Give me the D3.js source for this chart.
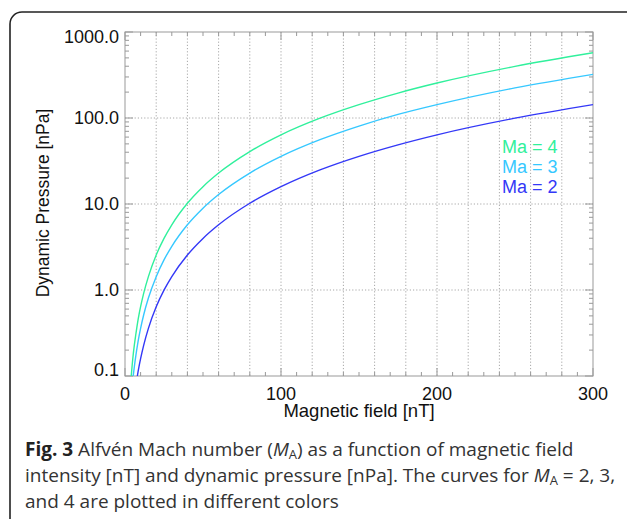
<!DOCTYPE html>
<html>
<head>
<meta charset="utf-8">
<script src="https://cdn.jsdelivr.net/npm/d3@7"></script>
<style>
  body { margin: 0; background: #fff; }
  svg { display: block; }
</style>
</head>
<body>
<div class="canvas"></div>
<script>
// values
const magneticField = [4, 5, 6, 7, 8, 9, 10, 12, 15, 20, 25, 30, 40, 50, 60, 80, 100, 125, 150, 175, 200, 250, 300];
const pressureMa4 = [0.1, 0.16, 0.23, 0.31, 0.41, 0.52, 0.64, 0.92, 1.43, 2.55, 3.98, 5.73, 10.2, 15.9, 22.9, 40.7, 63.7, 99.5, 143, 195, 255, 398, 573];
const pressureMa3 = [0.057, 0.09, 0.129, 0.175, 0.229, 0.29, 0.358, 0.516, 0.806, 1.43, 2.24, 3.22, 5.73, 8.95, 12.9, 22.9, 35.8, 56.0, 80.6, 110, 143, 224, 322];
const pressureMa2 = [0.025, 0.04, 0.057, 0.078, 0.102, 0.129, 0.159, 0.229, 0.358, 0.637, 0.995, 1.43, 2.55, 3.98, 5.73, 10.2, 15.9, 24.9, 35.8, 48.7, 63.7, 99.5, 143];
const seriesNames = ['Ma = 4', 'Ma = 3', 'Ma = 2'];
const seriesColors = ['#30f09c', '#36c8ff', '#3338f7'];
const xTickLabels = [0, 100, 200, 300];
const yTickLabels = ['0.1', '1.0', '10.0', '100.0', '1000.0'];

const dims = {'width': 627, 'height': 519};
const plot = {'left': 125, 'top': 32, 'right': 593, 'bottom': 376};

const svg = d3.select('.canvas')
  .append('svg')
  .attr('width', dims.width)
  .attr('height', dims.height);

// rounded frame running off the page
svg.append('rect')
  .attr('x', 10).attr('y', 12)
  .attr('width', 640).attr('height', 560)
  .attr('rx', 12)
  .attr('fill', 'none')
  .attr('stroke', '#222')
  .attr('stroke-width', 1.6);

const x = d3.scaleLinear().domain([0, 300]).range([plot.left, plot.right]);
const y = d3.scaleLog().domain([0.1, 1000]).range([plot.bottom, plot.top]);

const grid = svg.append('g')
  .attr('stroke', '#a8a8a8')
  .attr('stroke-width', 1)
  .attr('stroke-dasharray', '1.2,2');

grid.selectAll('line.vx').data(d3.range(20, 300, 20)).enter().append('line')
  .attr('x1', d => x(d)).attr('x2', d => x(d))
  .attr('y1', plot.top).attr('y2', plot.bottom);
grid.selectAll('line.hy').data([1, 10, 100]).enter().append('line')
  .attr('y1', d => y(d)).attr('y2', d => y(d))
  .attr('x1', plot.left).attr('x2', plot.right);

// ticks on all four sides
const ticks = svg.append('g').attr('stroke', '#999').attr('stroke-width', 1);
const xMinor = d3.range(0, 301, 10);
const xLen = d => (d % 100 === 0 ? 8 : 4);
ticks.selectAll('line.xb').data(xMinor).enter().append('line')
  .attr('x1', d => x(d)).attr('x2', d => x(d))
  .attr('y1', plot.bottom).attr('y2', d => plot.bottom - xLen(d));
ticks.selectAll('line.xt').data(xMinor).enter().append('line')
  .attr('x1', d => x(d)).attr('x2', d => x(d))
  .attr('y1', plot.top).attr('y2', d => plot.top + xLen(d));

const yMinor = [];
[0.1, 1, 10, 100].forEach(dec => { for (let k = 1; k < 10; k++) yMinor.push(dec * k); });
yMinor.push(1000);
const yLen = d => (Math.abs(Math.log10(d) - Math.round(Math.log10(d))) < 1e-6 ? 8 : 4);
ticks.selectAll('line.yl').data(yMinor).enter().append('line')
  .attr('y1', d => y(d)).attr('y2', d => y(d))
  .attr('x1', plot.left).attr('x2', d => plot.left + yLen(d));
ticks.selectAll('line.yr').data(yMinor).enter().append('line')
  .attr('y1', d => y(d)).attr('y2', d => y(d))
  .attr('x1', plot.right).attr('x2', d => plot.right - yLen(d));

svg.append('rect')
  .attr('x', plot.left).attr('y', plot.top)
  .attr('width', plot.right - plot.left).attr('height', plot.bottom - plot.top)
  .attr('fill', 'none').attr('stroke', '#999').attr('stroke-width', 1);

// curves
svg.append('clipPath').attr('id', 'clip')
  .append('rect')
  .attr('x', plot.left).attr('y', plot.top)
  .attr('width', plot.right - plot.left).attr('height', plot.bottom - plot.top);

const line = d3.line()
  .x(d => x(d[0]))
  .y(d => y(d[1]))
  .curve(d3.curveMonotoneX);

const series = [pressureMa4, pressureMa3, pressureMa2];
svg.append('g').attr('clip-path', 'url(#clip)')
  .selectAll('path').data(series).enter().append('path')
  .attr('d', s => line(magneticField.map((b, i) => [b, s[i]])))
  .attr('fill', 'none')
  .attr('stroke', (s, i) => seriesColors[i])
  .attr('stroke-width', 1.4);

// tick labels
const labelFont = "'Liberation Sans', Arial, Helvetica, sans-serif";
svg.append('g').selectAll('text').data(yTickLabels).enter().append('text')
  .attr('x', plot.left - 6)
  .attr('y', d => {
    const v = y(+d);
    if (+d === 1000) return v + 5;
    if (+d === 0.1) return v - 6;
    return v;
  })
  .attr('dy', '0.35em')
  .attr('text-anchor', 'end')
  .attr('font-family', labelFont)
  .attr('font-size', 18)
  .attr('fill', '#111')
  .text(d => d);

svg.append('g').selectAll('text').data(xTickLabels).enter().append('text')
  .attr('x', d => x(d))
  .attr('y', 400)
  .attr('text-anchor', 'middle')
  .attr('font-family', labelFont)
  .attr('font-size', 18)
  .attr('fill', '#111')
  .text(d => d);

svg.append('text')
  .attr('x', 359)
  .attr('y', 417)
  .attr('text-anchor', 'middle')
  .attr('font-family', labelFont)
  .attr('font-size', 18.5)
  .attr('fill', '#111')
  .text('Magnetic field [nT]');

svg.append('text')
  .attr('transform', 'translate(49,203) rotate(-90)')
  .attr('text-anchor', 'middle')
  .attr('font-family', labelFont)
  .attr('font-size', 17.5)
  .attr('fill', '#111')
  .text('Dynamic Pressure [nPa]');

// legend
svg.append('g').selectAll('text').data(seriesNames).enter().append('text')
  .attr('x', 502)
  .attr('y', (d, i) => 153 + i * 20)
  .attr('font-family', labelFont)
  .attr('font-size', 18)
  .attr('fill', (d, i) => seriesColors[i])
  .text(d => d);

// caption
const capFont = "'Open Sans', 'Noto Sans', sans-serif";
const caption = svg.append('g')
  .attr('font-family', capFont)
  .attr('font-size', 19)
  .attr('fill', '#333');

const l1 = caption.append('text').attr('x', 25).attr('y', 456);
l1.append('tspan').attr('font-weight', 'bold').attr('fill', '#222').text('Fig. 3');
l1.append('tspan').text(' Alfvén Mach number (');
l1.append('tspan').attr('font-style', 'italic').text('M');
l1.append('tspan').attr('font-size', 13).attr('dy', 3).text('A');
l1.append('tspan').attr('dy', -3).text(') as a function of magnetic field');

const l2 = caption.append('text').attr('x', 25).attr('y', 482);
l2.append('tspan').text('intensity [nT] and dynamic pressure [nPa]. The curves for ');
l2.append('tspan').attr('font-style', 'italic').text('M');
l2.append('tspan').attr('font-size', 13).attr('dy', 3).text('A');
l2.append('tspan').attr('dy', -3).text(' = 2, 3,');

caption.append('text').attr('x', 25).attr('y', 508)
  .text('and 4 are plotted in different colors');
</script>
</body>
</html>
